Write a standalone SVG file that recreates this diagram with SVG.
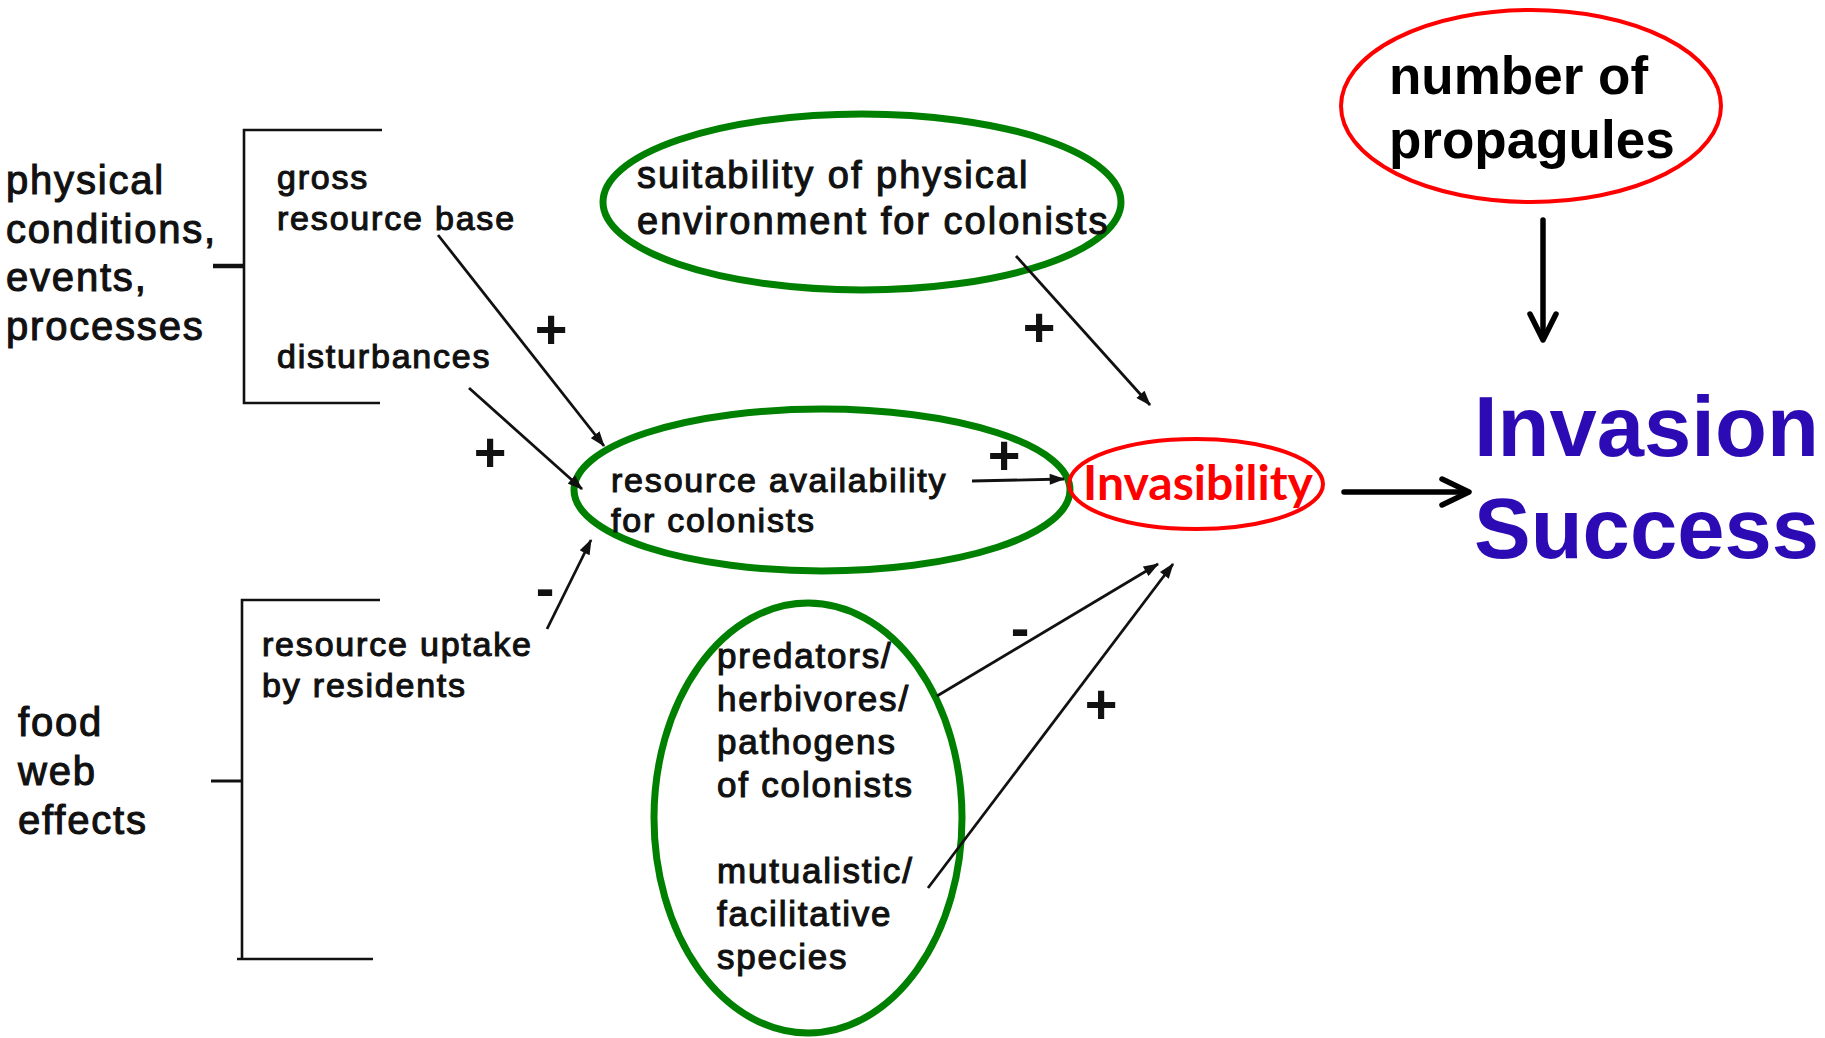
<svg xmlns="http://www.w3.org/2000/svg" width="1825" height="1038" viewBox="0 0 1825 1038">
  <defs>
    <style>
      .lbl { font-family: "Liberation Sans", Arial, sans-serif; fill: #111; stroke: #111; stroke-width: 1.1; letter-spacing: 1.8px; }
      .big { font-size: 40px; }
      .mid { font-size: 34px; }
      .eco { font-size: 35px; }
      .env { font-size: 38px; letter-spacing: 2px; }
      .sign { font-family: "Liberation Sans", Arial, sans-serif; font-weight: bold; font-size: 56px; fill: #111; text-anchor: middle; }
      .ring-g { fill: none; stroke: #008000; stroke-width: 7; }
      .ring-r { fill: none; stroke: #ff0000; stroke-width: 4; }
      .bracket { fill: none; stroke: #111; stroke-width: 2.6; }
      .thin { fill: none; stroke: #111; stroke-width: 2.8; marker-end: url(#head); }
      .thick { fill: none; stroke: #000; stroke-width: 5.5; stroke-linecap: round; stroke-linejoin: round; }
    </style>
    <marker id="head" viewBox="0 0 14 10" refX="13" refY="5" markerWidth="16" markerHeight="11" markerUnits="userSpaceOnUse" orient="auto">
      <path d="M0,0 L14,5 L0,10 z" fill="#111"/>
    </marker>
  </defs>
  <rect width="1825" height="1038" fill="#fff"/>

  <!-- upstream categories -->
  <g id="physical-conditions">
    <text class="lbl big" x="6" y="194">physical</text>
    <text class="lbl big" x="6" y="243">conditions,</text>
    <text class="lbl big" x="6" y="291">events,</text>
    <text class="lbl big" x="6" y="340">processes</text>
    <path class="bracket" d="M382,130 H244 V403 H380"/>
    <path d="M213,266 H244" stroke="#111" stroke-width="4.5"/>
  </g>
  <g id="gross-resource-base">
    <text class="lbl mid" x="277" y="189">gross</text>
    <text class="lbl mid" x="277" y="230">resource base</text>
  </g>
  <g id="disturbances">
    <text class="lbl mid" x="277" y="368">disturbances</text>
  </g>

  <g id="food-web-effects">
    <text class="lbl big" x="18" y="736">food</text>
    <text class="lbl big" x="18" y="785">web</text>
    <text class="lbl big" x="18" y="834">effects</text>
    <path class="bracket" d="M380,600 H242 V959 M237,959 H373"/>
    <path d="M211,781 H242" stroke="#111" stroke-width="3"/>
  </g>
  <g id="resource-uptake">
    <text class="lbl mid" x="262" y="656">resource uptake</text>
    <text class="lbl mid" x="262" y="697">by residents</text>
  </g>

  <!-- circled factors -->
  <g id="physical-suitability">
    <ellipse class="ring-g" cx="862" cy="202" rx="259" ry="88"/>
    <text class="lbl env" x="637" y="188">suitability of physical</text>
    <text class="lbl env" x="637" y="234">environment for colonists</text>
  </g>
  <g id="resource-availability">
    <ellipse class="ring-g" cx="822" cy="490" rx="248" ry="81"/>
    <text class="lbl mid" x="611" y="492">resource availability</text>
    <text class="lbl mid" x="611" y="532">for colonists</text>
  </g>
  <g id="biotic-interactions">
    <ellipse class="ring-g" cx="808" cy="818" rx="154" ry="215"/>
    <text class="lbl eco" x="717" y="668">predators/</text>
    <text class="lbl eco" x="717" y="711">herbivores/</text>
    <text class="lbl eco" x="717" y="754">pathogens</text>
    <text class="lbl eco" x="717" y="797">of colonists</text>
    <text class="lbl eco" x="717" y="883">mutualistic/</text>
    <text class="lbl eco" x="717" y="926">facilitative</text>
    <text class="lbl eco" x="717" y="969">species</text>
  </g>

  <g id="invasibility">
    <ellipse class="ring-r" cx="1196" cy="484" rx="127" ry="45"/>
    <text x="1198" y="500" text-anchor="middle" font-family="Lato, 'Liberation Sans', sans-serif" font-weight="bold" font-size="47" fill="#ff0000" textLength="230" lengthAdjust="spacingAndGlyphs">Invasibility</text>
  </g>
  <g id="propagule-number">
    <ellipse class="ring-r" cx="1531" cy="106" rx="190" ry="96"/>
    <text x="1389" y="94" font-family="'Liberation Sans', Arial, sans-serif" font-weight="bold" font-size="53" fill="#000">number of</text>
    <text x="1389" y="158" font-family="'Liberation Sans', Arial, sans-serif" font-weight="bold" font-size="53" fill="#000">propagules</text>
  </g>
  <g id="invasion-success">
    <text x="1474" y="456" font-family="'Liberation Sans', Arial, sans-serif" font-weight="bold" font-size="85" fill="#2c0bb5">Invasion</text>
    <text x="1474" y="558" font-family="'Liberation Sans', Arial, sans-serif" font-weight="bold" font-size="85" fill="#2c0bb5">Success</text>
  </g>

  <!-- connectors and their signs -->
  <g id="connectors">
    <line class="thin" x1="438" y1="235" x2="604" y2="446"/>
    <line class="thin" x1="469" y1="388" x2="582" y2="489"/>
    <line class="thin" x1="547" y1="629" x2="591" y2="540"/>
    <line class="thin" x1="1016" y1="256" x2="1150" y2="405"/>
    <line class="thin" x1="972" y1="481" x2="1064" y2="479"/>
    <line class="thin" x1="937" y1="696" x2="1158" y2="564"/>
    <line class="thin" x1="928" y1="888" x2="1173" y2="564"/>

    <line class="thick" x1="1344" y1="492" x2="1466" y2="492"/>
    <polyline class="thick" points="1442,479 1469,492 1442,505"/>
    <line class="thick" x1="1543" y1="220" x2="1543" y2="337"/>
    <polyline class="thick" points="1530,314 1543,340 1556,314"/>

    <text class="sign" x="551" y="348">+</text>
    <text class="sign" x="490" y="471">+</text>
    <text class="sign" x="1039" y="346">+</text>
    <text class="sign" x="1004" y="474">+</text>
    <text class="sign" x="1101" y="723">+</text>
    <text class="sign" x="545" y="607">-</text>
    <text class="sign" x="1020" y="647">-</text>
  </g>
</svg>
